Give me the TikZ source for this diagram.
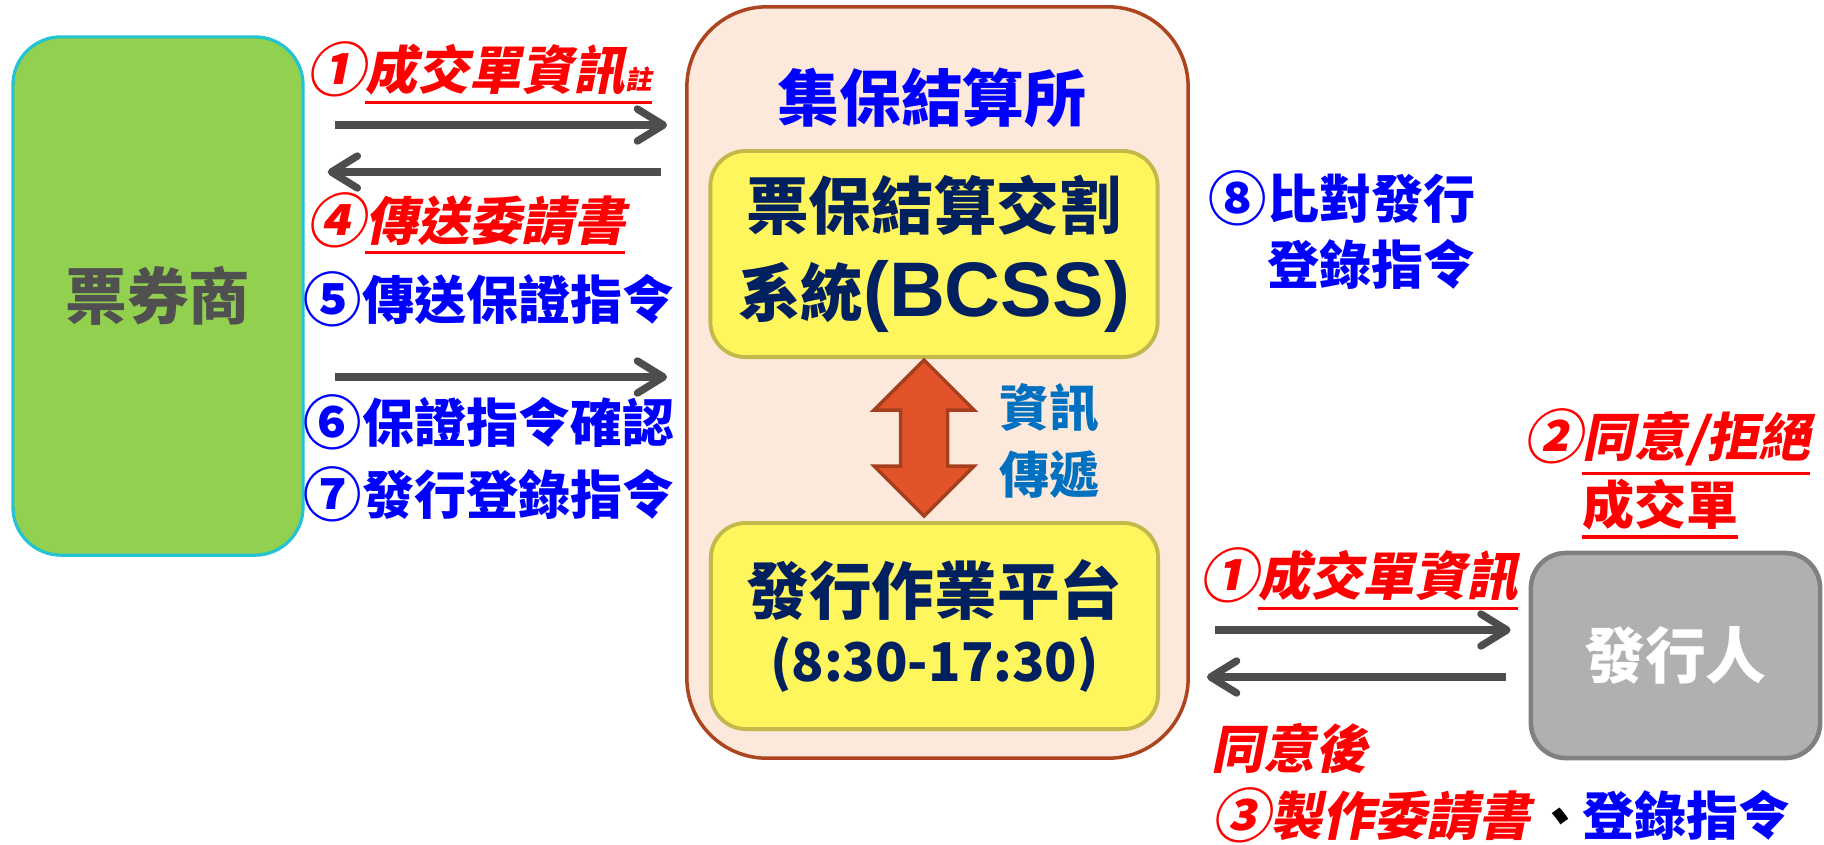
\documentclass[tikz,border=0pt]{standalone}
\usepackage{fontspec}
\setmainfont{Noto Sans CJK TC}
\newfontfamily\slfont{Noto Sans CJK TC}[FakeSlant=0.2]
\newfontfamily\arfont{Liberation Sans}
\usetikzlibrary{arrows.meta, positioning}

\definecolor{grnfill}{HTML}{92D050}
\definecolor{grnline}{HTML}{22C3D3}
\definecolor{pchfill}{HTML}{FDE9DB}
\definecolor{pchline}{HTML}{AD4420}
\definecolor{ylwfill}{HTML}{FFF55C}
\definecolor{ylwline}{HTML}{C3B94B}
\definecolor{navy}{HTML}{002060}
\definecolor{gryfill}{HTML}{B0B0B0}
\definecolor{gryline}{HTML}{808080}
\definecolor{arrgray}{HTML}{4D4D4D}
\definecolor{lblue}{HTML}{0070C0}
\definecolor{txtgray}{HTML}{505050}
\definecolor{orgfill}{HTML}{E3532A}
\definecolor{orgline}{HTML}{A63F1E}

\newcommand\ulbar[1]{\leavevmode\vtop{\hbox{#1}\kern1.6pt\hrule height 1pt}}
\newcommand\cnum[1]{\raisebox{-0.6pt}{\fontsize{16.6}{18}\selectfont #1}}

\tikzset{
  lbl/.style = {anchor=base west, inner sep=0pt, align=left,
    font=\bfseries\fontsize{14.8}{18.7}\selectfont},
  arr/.style = {draw=arrgray, line width=2.1pt,
    -{Straight Barb[length=2.6mm, width=3.2mm, round]}},
  ybox/.style = {draw=ylwline, fill=ylwfill, line width=1.1pt, rounded corners=0.35cm,
    minimum width=4.47cm, minimum height=2.06cm, inner sep=0pt, align=center,
    text=navy, font=\bfseries\fontsize{17.8}{24.8}\selectfont},
}

\begin{document}
\begin{tikzpicture}[x=0.01cm, y=-0.01cm]
    \useasboundingbox (0,0) rectangle (1824,844);

    \node[draw=pchline, fill=pchfill, line width=1pt, rounded corners=0.8cm,
      minimum width=5.01cm, minimum height=7.51cm] (ccb) at (937.5,382.5) {};
    \node[anchor=base, inner sep=0pt, text=blue,
      font=\bfseries\fontsize{17.6}{20}\selectfont] (title) at (932,121) {集保結算所};
    \node[ybox] (bcss) at (934,254)
      {票保結算交割\\系統{\arfont\fontsize{22}{24.8}\selectfont (BCSS)}};
    \node[ybox, font=\bfseries\fontsize{17.8}{19.2}\selectfont] (platform) at (934.5,626)
      {發行作業平台\\{\fontsize{15.2}{19.2}\selectfont (8:30-17:30)}};
    \draw[shift={(924,438)}, draw=orgline, fill=orgfill, line width=1pt]
      (0,-78) -- (50,-28) -- (23.5,-28) -- (23.5,28) -- (50,28) -- (0,78)
      -- (-50,28) -- (-23.5,28) -- (-23.5,-28) -- (-50,-28) -- cycle;
    \node[lbl, text=lblue, font=\bfseries\fontsize{14.2}{18.8}\selectfont] (info)
      at (999,493) {資訊\\傳遞};

    \node[draw=grnline, fill=grnfill, line width=0.9pt, rounded corners=0.48cm,
      minimum width=2.9cm, minimum height=5.18cm, text=txtgray,
      font=\bfseries\fontsize{17.5}{20}\selectfont] (broker) at (158,296) {票券商};
    \node[draw=gryline, fill=gryfill, line width=1.3pt, rounded corners=0.35cm,
      minimum width=2.89cm, minimum height=2.05cm, text=white,
      font=\bfseries\fontsize{17.3}{20}\selectfont] (issuer) at (1675.5,655.5) {發行人};

    \node[lbl, text=red] (s1) at (306,89)
      {\slfont\cnum{①}\ulbar{成交單資訊{\fontsize{7.5}{8}\selectfont 註}}};
    \node[lbl, text=red] (s4) at (306,240) {\slfont\cnum{④}\ulbar{傳送委請書}};
    \node[lbl, text=blue] (s5) at (303,319) {\cnum{⑤}傳送保證指令};
    \node[lbl, text=blue] (s6) at (303,442) {\cnum{⑥}保證指令確認};
    \node[lbl, text=blue] (s7) at (303,514) {\cnum{⑦}發行登錄指令};
    \node[lbl, text=blue] (s8) at (1208,284) {\cnum{⑧}比對發行\\\hphantom{\cnum{⑧}}登錄指令};
    \node[lbl, text=red, font=\bfseries\fontsize{14.8}{18.2}\selectfont] (s2) at (1523,524)
      {\slfont\cnum{②}\ulbar{同意/拒絕}\\\hphantom{\cnum{②}}\ulbar{成交單}};
    \node[lbl, text=red] (r1) at (1199,595) {\slfont\cnum{①}\ulbar{成交單資訊}};
    \node[lbl, text=red, font=\bfseries\fontsize{14.8}{18.8}\selectfont] (s3) at (1211,835)
      {\slfont 同意後\\\slfont\cnum{③}製作委請書{\color{black}、}{\rmfamily\color{blue}登錄指令}};

    \coordinate (y1) at (0,125);
    \coordinate (y2) at (0,172);
    \coordinate (y3) at (0,377);
    \coordinate (y4) at (0,630);
    \coordinate (y5) at (0,677);
    \draw[arr, shorten <=3mm, shorten >=1.8mm] (broker.east |- y1) -- (ccb.west |- y1);
    \draw[arr, shorten <=2.4mm, shorten >=2.3mm] (ccb.west |- y2) -- (broker.east |- y2);
    \draw[arr, shorten <=3mm, shorten >=1.8mm] (broker.east |- y3) -- (ccb.west |- y3);
    \draw[arr, shorten <=2.5mm, shorten >=1.8mm] (ccb.east |- y4) -- (issuer.west |- y4);
    \draw[arr, shorten <=2.3mm, shorten >=1.7mm] (issuer.west |- y5) -- (ccb.east |- y5);
\end{tikzpicture}
\end{document}
